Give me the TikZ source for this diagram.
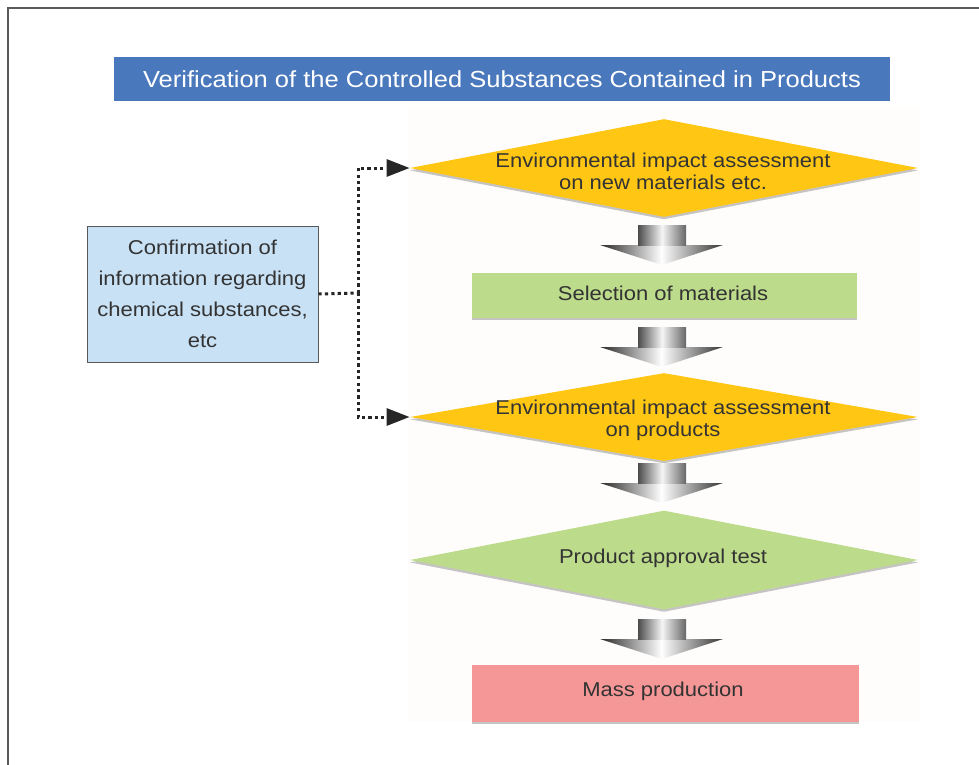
\documentclass[tikz,border=0pt]{standalone}
\usepackage{fontspec}
\setmainfont[FakeStretch=1.1]{Liberation Sans}
\usetikzlibrary{shapes.geometric,arrows.meta,shadows}

\definecolor{titleblue}{HTML}{4A78BC}
\definecolor{boxblue}{HTML}{C8E1F5}
\definecolor{stepyellow}{HTML}{FFC714}
\definecolor{stepgreen}{HTML}{BCDB8B}
\definecolor{stepred}{HTML}{F49796}
\definecolor{inkgray}{HTML}{333333}
\definecolor{framegray}{HTML}{5A5A5A}
\definecolor{paper}{HTML}{FEFDFB}

\tikzset{
  bodytext/.style={text=inkgray, font=\fontsize{10}{11}\selectfont, align=center},
  decision/.style={diamond, inner sep=0pt, minimum width=254pt, minimum height=#1,
                   drop shadow={shadow xshift=0pt, shadow yshift=-1.2pt, opacity=0.45}},
  stagebox/.style={rectangle, inner sep=0pt,
                   drop shadow={shadow xshift=0pt, shadow yshift=-1.2pt, opacity=0.45}},
  dotline/.style={line width=1.5pt, dash pattern=on 1.6pt off 1.6pt, black!85},
  blockarrow/.pic={
    \shade[left color=black!85, right color=black!80, middle color=white]
      (-62,20) -- (61,20) -- (0,40) -- cycle;
    \shade[left color=black!70, right color=black!60, middle color=black!4]
      (-24,0) rectangle (24,20.6);
  }
}

\begin{document}
\begin{tikzpicture}[x=0.5pt, y=-0.5pt]
  \useasboundingbox (0,0) rectangle (979,765);
  \fill[white] (0,0) rectangle (979,765);

  % outer frame (top and left edges)
  \draw[framegray, line width=1pt] (8,765) -- (8,8) -- (979,8);

  % title bar
  \node[fill=titleblue, minimum width=388pt, minimum height=22pt, inner sep=0pt,
        text=white, font=\fontsize{11.6}{13}\selectfont] (title) at (502,79)
        {Verification of the Controlled Substances Contained in Products};

  % light paper behind the flow
  \fill[paper] (408,108) rectangle (920,722);

  % flow steps
  \node[decision=49pt, fill=stepyellow] (d1) at (664,168) {};
  \node[bodytext] (d1t) at (663,171) {Environmental impact assessment\\on new materials etc.};

  \node[stagebox, fill=stepgreen, minimum width=192.5pt, minimum height=22.5pt] (sel) at (664.5,295) {};
  \node[bodytext] (selt) at (663,293) {Selection of materials};

  \node[decision=44pt, fill=stepyellow] (d2) at (664,417) {};
  \node[bodytext] (d2t) at (663,420) {Environmental impact assessment\\on products};

  \node[decision=49.5pt, fill=stepgreen] (d3) at (664,560) {};
  \node[bodytext] (d3t) at (663,558) {Product approval test};

  \node[stagebox, fill=stepred, minimum width=193.5pt, minimum height=28.5pt] (mass) at (665.5,693.5) {};
  \node[bodytext] (masst) at (663,691) {Mass production};

  % shaded block arrows between the steps
  \pic at (662,225) {blockarrow};
  \pic at (662,327) {blockarrow};
  \pic at (662,463) {blockarrow};
  \pic at (662,619) {blockarrow};

  % side box
  \node[draw=black!65, line width=0.5pt, fill=boxblue, minimum width=115.5pt,
        minimum height=68pt, inner sep=0pt, text=inkgray,
        font=\fontsize{10}{15.5}\selectfont, align=center] (conf) at (202.5,294)
        {Confirmation of\\information regarding\\chemical substances,\\etc};

  % dotted links to the two assessments
  \coordinate (branch) at (358,293);
  \draw[dotline] (conf.east) -- (branch);
  \draw[dotline, -{Triangle[length=11.5pt, width=8.5pt]}] (branch) |- (d1.west);
  \draw[dotline, -{Triangle[length=11.5pt, width=8.5pt]}] (branch) |- (d2.west);
\end{tikzpicture}
\end{document}
